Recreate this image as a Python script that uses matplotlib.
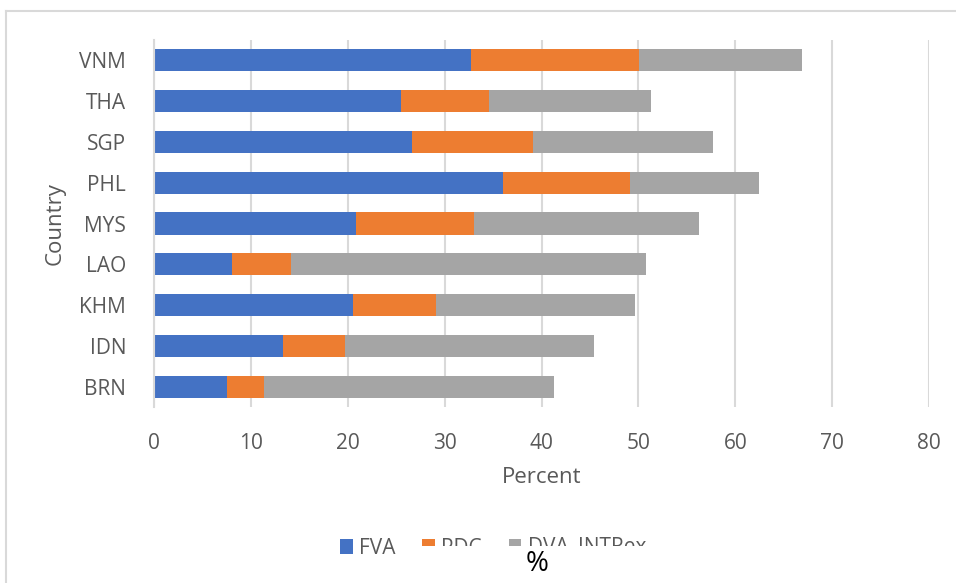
import matplotlib

matplotlib.use("Agg")

import matplotlib.pyplot as plt
from matplotlib.lines import Line2D
from matplotlib.patches import Rectangle

countries = ["BRN", "IDN", "KHM", "LAO", "MYS", "PHL", "SGP", "THA", "VNM"]
fva = [7.5, 13.3, 20.5, 8.0, 20.8, 36.0, 26.6, 25.5, 32.7]
pdc = [3.9, 6.4, 8.6, 6.1, 12.2, 13.1, 12.5, 9.1, 17.4]
dva_intrex = [29.9, 25.7, 20.5, 36.7, 23.3, 13.3, 18.6, 16.7, 16.8]
xticks = [0, 10, 20, 30, 40, 50, 60, 70, 80]

BLUE = "#4472C4"
ORANGE = "#ED7D31"
GREY = "#A5A5A5"
TEXT = "#595959"
GRID = "#D9D9D9"

plt.rcParams["font.family"] = ["Open Sans", "DejaVu Sans"]

fig = plt.figure(figsize=(9.56, 5.83), dpi=100)
ax = fig.add_axes([154 / 956, 1 - 407 / 583, (929 - 154) / 956, (407 - 40) / 583])

left_pdc = fva
left_dva = [a + b for a, b in zip(fva, pdc)]
h = 0.54
b1 = ax.barh(countries, fva, height=h, color=BLUE, label="FVA")
b2 = ax.barh(countries, pdc, left=left_pdc, height=h, color=ORANGE, label="PDC")
b3 = ax.barh(countries, dva_intrex, left=left_dva, height=h, color=GREY, label="DVA_INTRex")

ax.set_xlim(0, 80)
ax.set_ylim(-0.5, len(countries) - 0.5)
ax.set_xticks(xticks)
ax.grid(True, axis="x", color=GRID, linewidth=1.5)
ax.set_axisbelow(True)
for side in ("top", "right", "bottom"):
    ax.spines[side].set_visible(False)
ax.spines["left"].set_color(GRID)
ax.spines["left"].set_linewidth(1.5)
ax.tick_params(axis="x", length=0, pad=19, labelsize=15, labelcolor=TEXT)
ax.tick_params(axis="y", length=0, pad=20, labelsize=15, labelcolor=TEXT)
ax.set_xlabel("Percent", fontsize=16, color=TEXT, labelpad=9)
ax.set_ylabel("Country", fontsize=16, color=TEXT, labelpad=10)

fig.legend(
    handles=[b1, b2, b3],
    loc="center",
    bbox_to_anchor=(493 / 956, 1 - 548 / 583),
    ncol=3,
    frameon=False,
    fontsize=15,
    labelcolor=TEXT,
    handlelength=0.6,
    handleheight=0.7,
    handletextpad=0.3,
    columnspacing=1.3,
)

# outer chart frame
fig.add_artist(Line2D([6 / 956, 6 / 956], [0, 1 - 11 / 583], color=GRID, linewidth=1.5))
fig.add_artist(Line2D([6 / 956, 1], [1 - 11 / 583, 1 - 11 / 583], color=GRID, linewidth=1.5))

# caption box overlapping the legend
fig.add_artist(Rectangle((405 / 956, 0), (665 - 405) / 956, 1 - 546 / 583,
                         transform=fig.transFigure, facecolor="white", edgecolor="none", zorder=10))
fig.text(537 / 956, 1 - 564 / 583, "%", ha="center", va="center", fontsize=20, color="black", zorder=11)

fig.savefig("out.png", dpi=100, facecolor="white")
